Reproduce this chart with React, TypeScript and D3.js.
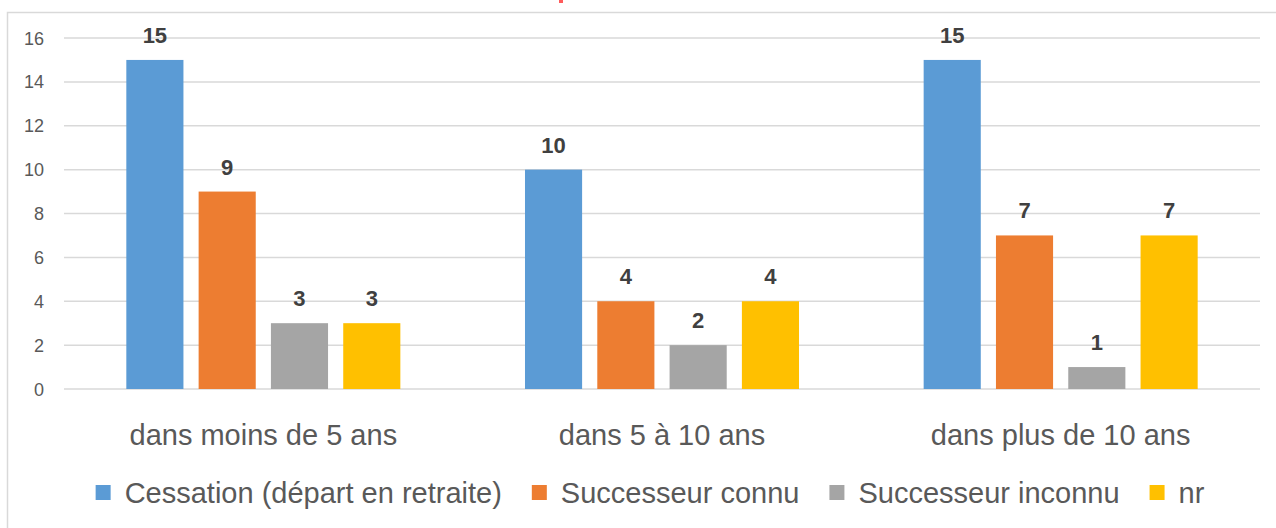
import { useEffect, useRef } from "react";
import * as d3 from "d3";

const categories = ["dans moins de 5 ans", "dans 5 à 10 ans", "dans plus de 10 ans"];
const series = ["Cessation (départ en retraite)", "Successeur connu", "Successeur inconnu", "nr"];
const colors = ["#5B9BD5", "#ED7D31", "#A5A5A5", "#FFC000"];
// values[series][category]
const cessation = [15, 10, 15];
const successeurConnu = [9, 4, 7];
const successeurInconnu = [3, 2, 1];
const nr = [3, 4, 7];
const yTicks = [0, 2, 4, 6, 8, 10, 12, 14, 16];

const FONT = "'Liberation Sans', Arial, sans-serif";

const App = () => {
  const ref = useRef<SVGSVGElement>(null);

  useEffect(() => {
    const W = 1276;
    const H = 528;
    const values = [cessation, successeurConnu, successeurInconnu, nr];
    const svg = d3.select(ref.current);
    svg.selectAll("*").remove();

    // chart frame
    svg
      .append("rect")
      .attr("x", 7.5)
      .attr("y", 12.5)
      .attr("width", W + 20)
      .attr("height", H + 20)
      .attr("fill", "#fff")
      .attr("stroke", "#D9D9D9")
      .attr("stroke-width", 1.5);

    // bit of the cut-off title
    svg.append("rect").attr("x", 559).attr("y", 0).attr("width", 4).attr("height", 3).attr("fill", "#FF5B5B");

    const x0 = d3.scaleBand<string>().domain(categories).range([64, 1260]);
    const x1 = d3
      .scaleBand<string>()
      .domain(series)
      .range([0, x0.bandwidth()])
      .paddingInner(0.21)
      .paddingOuter(0.862);
    const y = d3.scaleLinear().domain([0, 16]).range([389, 38]);

    const g = svg.append("g");

    g.selectAll(".grid")
      .data(yTicks)
      .enter()
      .append("line")
      .attr("x1", 64)
      .attr("x2", 1260)
      .attr("y1", (d) => y(d))
      .attr("y2", (d) => y(d))
      .attr("stroke", "#D9D9D9")
      .attr("stroke-width", 1.5);

    g.selectAll(".tick")
      .data(yTicks)
      .enter()
      .append("text")
      .attr("x", 44)
      .attr("y", (d) => y(d) + 6.5)
      .attr("text-anchor", "end")
      .attr("font-family", FONT)
      .attr("font-size", 18)
      .attr("fill", "#595959")
      .text((d) => d);

    series.forEach((s, si) => {
      const sg = g.append("g");
      sg.selectAll("rect")
        .data(values[si])
        .enter()
        .append("rect")
        .attr("x", (_d, i) => x0(categories[i])! + x1(s)!)
        .attr("width", x1.bandwidth())
        .attr("y", (d) => y(d))
        .attr("height", (d) => y(0) - y(d))
        .attr("fill", colors[si]);
      sg.selectAll("text")
        .data(values[si])
        .enter()
        .append("text")
        .attr("x", (_d, i) => x0(categories[i])! + x1(s)! + x1.bandwidth() / 2)
        .attr("y", (d) => y(d) - 17)
        .attr("text-anchor", "middle")
        .attr("font-family", FONT)
        .attr("font-weight", "bold")
        .attr("font-size", 22)
        .attr("fill", "#404040")
        .text((d) => d);
    });

    g.selectAll(".cat")
      .data(categories)
      .enter()
      .append("text")
      .attr("x", (d) => x0(d)! + x0.bandwidth() / 2)
      .attr("y", 445)
      .attr("text-anchor", "middle")
      .attr("font-family", FONT)
      .attr("font-size", 29)
      .attr("fill", "#595959")
      .text((d) => d);

    // legend, laid out from measured text widths
    const legend = svg.append("g");
    const items = series.map((s, i) => {
      const it = legend.append("g");
      it.append("rect").attr("width", 15).attr("height", 15).attr("y", 485).attr("fill", colors[i]);
      const t = it
        .append("text")
        .attr("x", 29)
        .attr("y", 503)
        .attr("font-family", FONT)
        .attr("font-size", 29)
        .attr("fill", "#595959")
        .text(s);
      return { it, w: 29 + (t.node() as SVGTextElement).getComputedTextLength() };
    });
    const gap = 30;
    const total = d3.sum(items, (d) => d.w) + gap * (items.length - 1);
    let cx = 650 - total / 2;
    items.forEach((d) => {
      d.it.attr("transform", `translate(${cx},0)`);
      cx += d.w + gap;
    });
  }, []);

  return (
    <svg
      ref={ref}
      width={1276}
      height={528}
      style={{ position: "absolute", left: 0, top: 0, background: "#fff" }}
    />
  );
};

export default App;
